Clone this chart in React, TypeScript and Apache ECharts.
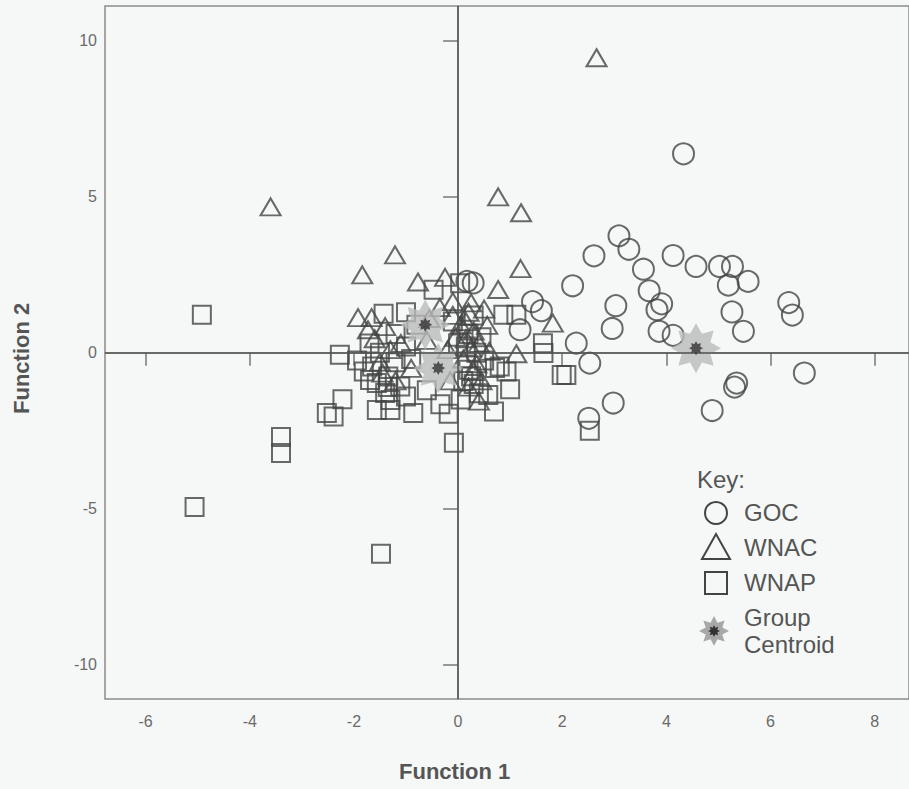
import React, { useEffect, useRef } from "react";
import * as echarts from "echarts";

// Discriminant function scores [Function 1, Function 2]
const gocPoints: number[][] = [
  [4.33, 6.38], [3.09, 3.75], [3.28, 3.32], [2.61, 3.11], [4.13, 3.12], [3.56, 2.68],
  [4.57, 2.77], [5.02, 2.77], [5.27, 2.77], [5.19, 2.17], [5.57, 2.29], [2.2, 2.15],
  [3.67, 1.99], [3.03, 1.51], [3.91, 1.57], [3.82, 1.38], [6.35, 1.61], [6.42, 1.21],
  [2.96, 0.78], [5.26, 1.31], [5.48, 0.69], [3.86, 0.69], [4.13, 0.56], [2.27, 0.31],
  [2.53, -0.33], [6.65, -0.65], [5.35, -0.97], [5.31, -1.1], [2.98, -1.61], [4.88, -1.85],
  [2.51, -2.1], [0.17, 2.29], [0.29, 2.24], [1.43, 1.64], [1.6, 1.35], [1.19, 0.74],
];

const wnacPoints: number[][] = [
  [2.66, 9.46], [-3.6, 4.68], [0.77, 5.0], [1.21, 4.49], [-1.21, 3.14], [-1.84, 2.5],
  [1.2, 2.7], [-0.77, 2.27], [-0.25, 2.42], [0.77, 2.03], [0.25, 1.6], [-0.1, 1.64],
  [-1.92, 1.13], [-1.66, 1.13], [1.82, 0.95], [1.12, -0.03], [0.56, 0.88], [-1.4, 0.84],
  [-1.73, 0.74], [-0.1, 1.2], [0.15, 1.0], [0.3, 0.7], [-0.05, 0.5], [0.4, 0.3],
  [0.1, -0.2], [-0.2, 0.1], [0.3, -0.6], [0.45, -0.9], [-0.15, -0.9], [-1.1, 0.3],
  [-1.3, 0.1], [-1.5, -0.3], [-0.9, -0.5], [-1.2, -0.9], [-0.6, 0.4], [0.2, -1.1],
  [0.05, 0.9], [-1.6, 0.45], [0.6, 0.05], [-0.35, 1.45], [-0.55, 1.1], [0.5, 1.4],
  [0.25, 0.15], [0.35, -0.35], [0.15, 0.45], [0.4, -1.55], [0.2, 1.3], [-1.45, -0.65],
];

const wnapPoints: number[][] = [
  [-4.92, 1.22], [-5.06, -4.94], [-3.4, -2.7], [-3.4, -3.21], [-1.48, -6.44], [-2.52, -1.93],
  [-2.39, -2.04], [-2.22, -1.49], [-2.27, -0.06], [-0.08, -2.88], [2.53, -2.5], [1.64, -0.01],
  [1.99, -0.71], [2.08, -0.71], [1.0, -1.17], [0.69, -1.88], [-1.43, 1.25], [-1.56, -1.83],
  [-1.3, -1.83], [-0.86, -1.93], [-0.34, -1.65], [-0.18, -1.95], [0.87, 1.22], [1.12, 1.22],
  [-0.47, 2.02], [1.63, 0.31], [-1.94, -0.25], [-1.81, -0.6], [-1.56, -0.97], [-1.34, -0.76],
  [-1.11, -1.08], [-1.69, -0.87], [-1.4, -1.29], [-1.3, -1.51], [0.93, -0.6], [0.71, -0.49],
  [0.58, -1.35], [0.2, -0.54], [0.8, -0.44], [-1.65, -0.44], [0.04, 2.23],
  [-1.0, 0.2], [-0.9, -0.2], [-1.2, 0.6], [-0.8, 0.9], [-1.0, 1.3], [-1.7, 0.3],
  [-1.5, 0.0], [-1.2, -0.3], [0.0, 0.3], [0.2, 0.6], [0.35, 0.0], [0.1, -0.9],
  [0.4, -1.3], [-0.1, 1.0], [0.3, 1.2], [-1.0, -1.4], [-0.6, -1.2], [0.05, -1.5],
  [0.45, 0.5], [0.5, -0.25], [0.25, -0.75], [0.15, 0.2], [0.3, -1.0], [-1.35, -1.1],
];

const centroidPoints: number[][] = [[4.57, 0.15], [-0.63, 0.9], [-0.38, -0.49]];

const xTicks = [-6, -4, -2, 0, 2, 4, 6, 8];
const yTicks = [-10, -5, 0, 5, 10];

const STAR =
  "path://M100 50 L78.64 61.86 L85.36 85.36 L61.86 78.64 L50 100 L38.14 78.64 L14.64 85.36 L21.36 61.86 L0 50 L21.36 38.14 L14.64 14.64 L38.14 21.36 L50 0 L61.86 21.36 L85.36 14.64 L78.64 38.14 Z";

const INK = "#444";
const FONT = "'Liberation Sans Narrow', 'Arial Narrow', 'Liberation Sans', Arial, sans-serif";
const TFONT = "'Liberation Sans', Arial, sans-serif";
const hollow = { color: "rgba(0,0,0,0)", borderColor: INK, borderWidth: 2 };

function starPoly(cx: number, cy: number, R: number, r: number): number[][] {
  const pts: number[][] = [];
  for (let i = 0; i < 16; i++) {
    const a = (Math.PI / 8) * i;
    const rr = i % 2 === 0 ? R : r;
    pts.push([cx + rr * Math.cos(a), cy + rr * Math.sin(a)]);
  }
  return pts;
}

export default function App() {
  const ref = useRef<HTMLDivElement>(null);
  useEffect(() => {
    if (!ref.current) return;
    const chart = echarts.init(ref.current, null, { renderer: "svg" });
    const lx = 716;
    const tx = 744;
    const legendText = { fontSize: 24, fill: "#555", fontFamily: TFONT };
    chart.setOption({
      animation: false,
      backgroundColor: "#f6f8f8",
      grid: {
        left: 105, right: -2, top: 6, bottom: 90,
        show: true, borderColor: "#8a8a8a", borderWidth: 1.5, backgroundColor: "transparent",
      },
      xAxis: {
        type: "value", min: -6.78, max: 8.66,
        axisLine: { show: true, lineStyle: { color: "#8a8a8a", width: 1.5 } },
        axisTick: { show: true, customValues: xTicks, length: 13, lineStyle: { color: "#777", width: 1.5 } },
        axisLabel: { customValues: xTicks, margin: 14, fontSize: 16, color: "#6a6a6a", fontFamily: FONT },
        splitLine: { show: false },
      },
      yAxis: {
        type: "value", min: -11.1, max: 11.12,
        axisLine: { show: true, lineStyle: { color: "#8a8a8a", width: 1.5 } },
        axisTick: { show: true, customValues: yTicks, length: 15, lineStyle: { color: "#777", width: 1.5 } },
        axisLabel: { customValues: yTicks, margin: 8, fontSize: 16, color: "#6a6a6a", fontFamily: FONT },
        splitLine: { show: false },
      },
      series: [
        {
          name: "GOC", type: "scatter", data: gocPoints, symbol: "circle", symbolSize: 21,
          itemStyle: hollow, z: 3,
          markLine: {
            silent: true, symbol: ["none", "none"], label: { show: false },
            lineStyle: { color: "#555", width: 1.5, type: "solid" },
            data: [{ xAxis: 0 }, { yAxis: 0 }],
          },
        },
        { name: "WNAC", type: "scatter", data: wnacPoints, symbol: "triangle", symbolSize: [20, 17], itemStyle: hollow, z: 3 },
        { name: "WNAP", type: "scatter", data: wnapPoints, symbol: "rect", symbolSize: 18, itemStyle: hollow, z: 3 },
        { name: "Group Centroid", type: "scatter", data: centroidPoints, symbol: STAR, symbolSize: 50, itemStyle: { color: "#bababa" }, z: 4 },
        { name: "Centroid core", type: "scatter", data: centroidPoints, symbol: STAR, symbolSize: 14, itemStyle: { color: "#333" }, z: 5 },
      ],
      graphic: [
        { type: "text", left: 459 - 60, top: 760, z: 10, style: { text: "Function 1", fontSize: 22, fontWeight: "bold", fill: "#555", fontFamily: TFONT } },
        { type: "text", x: 10, y: 414, rotation: Math.PI / 2, z: 10, style: { text: "Function 2", fontSize: 22, fontWeight: "bold", fill: "#555", fontFamily: TFONT } },
        { type: "text", x: 697, y: 467, z: 10, style: { text: "Key:", ...legendText } },
        { type: "circle", z: 10, shape: { cx: lx, cy: 513, r: 11 }, style: { fill: "none", stroke: INK, lineWidth: 2 } },
        { type: "text", x: tx, y: 500, z: 10, style: { text: "GOC", ...legendText } },
        { type: "polygon", z: 10, shape: { points: [[lx, 534], [lx - 14, 559], [lx + 14, 559]] }, style: { fill: "none", stroke: INK, lineWidth: 2 } },
        { type: "text", x: tx, y: 535, z: 10, style: { text: "WNAC", ...legendText } },
        { type: "rect", z: 10, shape: { x: lx - 11, y: 572, width: 22, height: 22 }, style: { fill: "none", stroke: INK, lineWidth: 2 } },
        { type: "text", x: tx, y: 570, z: 10, style: { text: "WNAP", ...legendText } },
        { type: "polygon", z: 10, shape: { points: starPoly(lx - 2, 631, 15, 9) }, style: { fill: "#a8a8a8" } },
        { type: "polygon", z: 11, shape: { points: starPoly(lx - 2, 631, 6, 3.5) }, style: { fill: "#333" } },
        { type: "text", x: tx, y: 604, z: 10, style: { text: "Group\nCentroid", fontSize: 24, lineHeight: 27, fill: "#555", fontFamily: TFONT } },
      ],
    });
    return () => chart.dispose();
  }, []);
  return <div ref={ref} style={{ position: "absolute", left: 0, top: 0, width: 909, height: 789 }} />;
}
